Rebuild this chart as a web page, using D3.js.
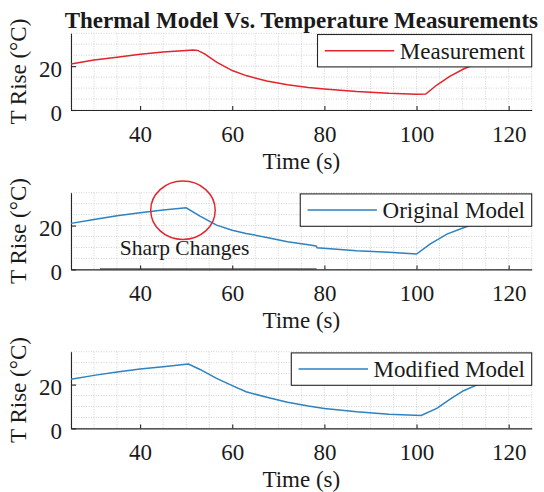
<!DOCTYPE html>
<html>
<head>
<meta charset="utf-8">
<script src="https://cdn.jsdelivr.net/npm/d3@7"></script>
<style>
  body { margin: 0; background: #fff; }
  text { font-family: "Liberation Serif", "Times New Roman", serif; fill: #1a1a1a; }
</style>
</head>
<body>
<script>
// Data (time in s, temperature rise in degC)
const measTime = [25, 30, 35, 40, 45, 50, 51.5, 52.5, 54, 56.6, 60, 63, 67.5, 72, 76.5, 80, 87, 94, 100, 102, 104.4, 107.3, 110.2, 113, 117, 120];
const measRise = [21.0, 22.8, 24.1, 25.4, 26.5, 27.2, 27.4, 27.2, 25.6, 21.8, 18.0, 15.7, 13.2, 11.5, 10.3, 9.6, 8.4, 7.6, 7.2, 7.3, 11.4, 15.5, 18.7, 21.2, 24.2, 26];

const origTime = [25, 30, 35, 40, 45, 50, 53, 56.6, 60, 63, 67.5, 72, 76.5, 78.2, 78.4, 87, 94, 100, 103, 106.6, 110.2, 113, 117, 120];
const origRise = [21.0, 22.8, 24.5, 25.9, 27.1, 28.1, 24.3, 20.2, 17.9, 16.4, 14.6, 12.6, 11.3, 10.7, 9.9, 8.5, 7.8, 7.0, 11.6, 16.1, 19.0, 21, 23.5, 25];

const modTime = [25, 30, 35, 40, 45, 50.5, 53, 56.6, 60, 63, 67.5, 72, 76.5, 80, 87, 94, 101, 104.4, 107.3, 110.2, 113.4, 117, 120];
const modRise = [22.4, 24.2, 25.7, 27.1, 28.1, 29.4, 26.9, 22.8, 19.5, 16.7, 14.2, 11.9, 10.2, 9.1, 7.6, 6.5, 5.9, 9.1, 13.4, 17.2, 20.1, 23, 25];

const xTicks = [40, 60, 80, 100, 120];
const yTicks = [0, 20];
const gridX = d3.range(25, 126, 5);
const gridY = d3.range(0, 36, 5);

const panels = [
  { name: "Measurement", time: measTime, rise: measRise, color: "#e2242b" },
  { name: "Original Model", time: origTime, rise: origRise, color: "#2d82bf" },
  { name: "Modified Model", time: modTime, rise: modRise, color: "#2d82bf" }
];

const width = 544, height = 492;
const svg = d3.select("body").append("svg")
  .attr("width", width).attr("height", height);

const left = 71, right = 531.7, plotH = 76.7;
const tops = [33.3, 192.7, 351.7];

const x = d3.scaleLinear().domain([25, 125]).range([left, right]);

panels.forEach((p, i) => {
  const top = tops[i], bottom = top + plotH;
  const y = d3.scaleLinear().domain([0, 35]).range([bottom, top]);
  const g = svg.append("g");

  // dotted grid
  g.selectAll(".gx").data(gridX).enter().append("line")
    .attr("x1", d => x(d)).attr("x2", d => x(d))
    .attr("y1", top).attr("y2", bottom)
    .attr("stroke", "#c8c8c8").attr("stroke-width", 0.8)
    .attr("stroke-dasharray", "1,1.5");
  g.selectAll(".gy").data(gridY).enter().append("line")
    .attr("x1", left).attr("x2", right)
    .attr("y1", d => y(d)).attr("y2", d => y(d))
    .attr("stroke", "#c8c8c8").attr("stroke-width", 0.8)
    .attr("stroke-dasharray", "1,1.5");

  // axes: bottom and left only, ticks inward
  const xAxis = d3.axisBottom(x).tickValues(xTicks).tickSize(-4).tickPadding(18).tickSizeOuter(0);
  const xa = g.append("g").attr("transform", `translate(0,${bottom})`).call(xAxis);
  const yAxis = d3.axisLeft(y).tickValues(yTicks).tickSize(-5).tickPadding(9).tickSizeOuter(0);
  const ya = g.append("g").attr("transform", `translate(${left},0)`).call(yAxis);
  [xa, ya].forEach(a => {
    a.attr("font-family", null);
    a.select(".domain").attr("stroke", "#262626").attr("stroke-width", 1.1);
    a.selectAll(".tick line").attr("stroke", "#262626").attr("stroke-width", 1.1);
    a.selectAll("text").attr("font-size", 23).attr("fill", "#1a1a1a");
  });
  xa.selectAll("text").attr("dy", "0.6em");
  ya.selectAll("text").attr("dy", "0.45em");

  // data line
  const pts = p.time.map((t, k) => [t, p.rise[k]]);
  g.append("path")
    .datum(pts)
    .attr("fill", "none")
    .attr("stroke", p.color)
    .attr("stroke-width", 1.5)
    .attr("d", d3.line().x(d => x(d[0])).y(d => y(d[1])));

  // legend box, right aligned with axes
  const lg = g.append("g");
  const txt = lg.append("text")
    .attr("font-size", 23)
    .text(p.name);
  const tw = txt.node().getComputedTextLength();
  const boxW = 7.3 + 69.4 + 5.6 + tw + 6.7;
  const bx = right - boxW, by = top + 1.2, bh = 32.4;
  lg.insert("rect", "text")
    .attr("x", bx).attr("y", by).attr("width", boxW).attr("height", bh)
    .attr("fill", "#fff").attr("stroke", "#262626").attr("stroke-width", 1.1);
  lg.insert("line", "text")
    .attr("x1", bx + 7.3).attr("x2", bx + 7.3 + 69.4)
    .attr("y1", by + bh / 2).attr("y2", by + bh / 2)
    .attr("stroke", p.color).attr("stroke-width", 1.5);
  txt.attr("x", bx + 7.3 + 69.4 + 5.6).attr("y", by + bh / 2 + 8);

  // x label
  g.append("text")
    .attr("x", (left + right) / 2).attr("y", bottom + 59)
    .attr("text-anchor", "middle").attr("font-size", 23)
    .text("Time (s)");

  // y label
  g.append("text")
    .attr("transform", `translate(26,${(top + bottom) / 2}) rotate(-90)`)
    .attr("text-anchor", "middle").attr("font-size", 23)
    .text("T Rise (°C)");

  if (i === 1) {
    // annotation: darker stretch of axis, circle and label
    g.append("line")
      .attr("x1", x(31.3)).attr("x2", x(78.3))
      .attr("y1", y(0) - 0.5).attr("y2", y(0) - 0.5)
      .attr("stroke", "#333").attr("stroke-width", 1);
    g.append("ellipse")
      .attr("cx", x(49.3)).attr("cy", y(27.0))
      .attr("rx", x(56.3) - x(49.3)).attr("ry", y(0) - y(13.3))
      .attr("fill", "none").attr("stroke", "#e3262d").attr("stroke-width", 1.5);
    g.append("text")
      .attr("x", x(35.6)).attr("y", y(6.5))
      .attr("font-size", 21.5)
      .text("Sharp Changes");
  }
});

// title
svg.append("text")
  .attr("x", (left + right) / 2).attr("y", 28)
  .attr("text-anchor", "middle")
  .attr("font-size", 23).attr("font-weight", "bold")
  .attr("fill", "#000")
  .text("Thermal Model Vs. Temperature Measurements");
</script>
</body>
</html>
